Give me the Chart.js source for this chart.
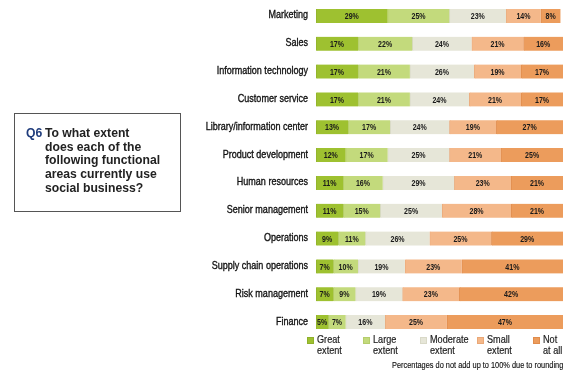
<!DOCTYPE html>
<html><head><meta charset="utf-8">
<script src="https://cdn.jsdelivr.net/npm/chart.js@4"></script>
<style>
html,body{margin:0;padding:0;background:#fff;}
#wrap{position:relative;width:575px;height:383px;overflow:hidden;}
#c{position:absolute;left:0;top:0;}
#box{position:absolute;left:14px;top:113px;width:167px;height:99px;border:1px solid #555;box-sizing:border-box;
 font-family:"Liberation Sans",Arial,sans-serif;font-weight:bold;font-size:12.2px;line-height:13.7px;color:#222;}
#q{position:absolute;left:11px;top:13px;color:#1f3c7c;}
#qt{position:absolute;left:30px;top:13px;white-space:nowrap;}
.leg{position:absolute;top:334px;font-family:"Liberation Sans",Arial,sans-serif;font-size:11px;line-height:11px;color:#222;}
.sw{position:absolute;left:0;top:3px;width:7px;height:7px;}
.lt{position:absolute;left:10px;top:0;white-space:nowrap;transform:scaleX(0.83);transform-origin:0 0;-webkit-text-stroke:0.2px #222;}
#note{position:absolute;right:12px;top:360px;font-family:"Liberation Sans",Arial,sans-serif;font-size:9.5px;line-height:10px;color:#111;white-space:nowrap;transform-origin:100% 0;-webkit-text-stroke:0.15px #111;}
</style></head>
<body><div id="wrap">
<canvas id="c" width="575" height="383"></canvas>
<div id="box"><div id="q">Q6</div><div id="qt">To what extent<br>does each of the<br>following functional<br>areas currently use<br>social business?</div></div>
<div id="legend"></div>
<div id="note">Percentages do not add up to 100% due to rounding</div>
</div>
<script>
const categories = ["Marketing","Sales","Information technology","Customer service","Library/information center","Product development","Human resources","Senior management","Operations","Supply chain operations","Risk management","Finance"];
const seriesNames = ["Great extent","Large extent","Moderate extent","Small extent","Not at all"];
const legendLines = [["Great","extent"],["Large","extent"],["Moderate","extent"],["Small","extent"],["Not","at all"]];
const great    = [29,17,17,17,13,12,11,11, 9, 7, 7, 5];
const large    = [25,22,21,21,17,17,16,15,11,10, 9, 7];
const moderate = [23,24,26,24,24,25,29,25,26,19,19,16];
const small    = [14,21,19,21,19,21,23,28,25,23,23,25];
const notAtAll = [ 8,16,17,17,27,25,21,21,29,41,42,47];
const colors = ["#9ec130","#c3da7c","#e6e6d8","#f4b88a","#ec9c5c"];
const edge   = ["#8fb02a","#b5cd6c","#d9d9c8","#eaa877","#e08c4c"];

const allSeries = [great,large,moderate,small,notAtAll];
const FAM = '"Liberation Sans", Arial, sans-serif';

const labelPlugin = {
  id:'segLabels',
  afterDatasetsDraw(chart){
    const ctx = chart.ctx;
    ctx.save();
    ctx.font = 'bold 9.5px ' + FAM;
    ctx.fillStyle = '#1a1a1a';
    ctx.textAlign = 'center';
    ctx.textBaseline = 'middle';
    chart.data.datasets.forEach((ds,i)=>{
      chart.getDatasetMeta(i).data.forEach((bar,j)=>{
        const x = (bar.x + bar.base)/2;
        ctx.save();
        ctx.translate(x, bar.y+0.5);
        ctx.scale(0.74,1);
        ctx.fillText(ds.data[j]+'%', 0, 0);
        ctx.restore();
      });
    });
    // category labels, positioned with the y scale
    const ys = chart.scales.y;
    ctx.font = '11px ' + FAM;
    ctx.textAlign = 'right';
    ctx.fillStyle = '#111';
    ctx.strokeStyle = '#111';
    ctx.lineWidth = 0.35;
    ys.ticks.forEach((t,i)=>{
      const y = ys.getPixelForTick(i) - 0.5;
      ctx.save();
      ctx.translate(ys.right - 8, y);
      ctx.scale(0.82,1);
      const s = ys.getLabelForValue(t.value);
      ctx.fillText(s, 0, 0);
      ctx.strokeText(s, 0, 0);
      ctx.restore();
    });
    ctx.restore();
  }
};

new Chart(document.getElementById('c'),{
  type:'bar',
  data:{labels:categories,datasets:allSeries.map((d,i)=>({
    label:seriesNames[i],data:d,backgroundColor:colors[i],borderColor:edge[i],
    borderWidth:{left:1,right:0,top:0,bottom:0},borderSkipped:false,barThickness:14
  }))},
  options:{
    indexAxis:'y',responsive:false,animation:false,
    layout:{padding:{top:2,bottom:47,right:12,left:0}},
    plugins:{legend:{display:false},tooltip:{enabled:false}},
    scales:{
      x:{stacked:true,min:0,max:100,display:false},
      y:{stacked:true,grid:{display:false},border:{display:false},
        ticks:{display:false},
        afterFit(s){s.width=316;}
      }
    }
  },
  plugins:[labelPlugin]
});

const lx=[307,363,420,477,533];
const lg=document.getElementById('legend');
legendLines.forEach((l,i)=>{
  const d=document.createElement('div');d.className='leg';d.style.left=lx[i]+'px';
  d.innerHTML='<div class="sw" style="background:'+colors[i]+';border:1px solid '+edge[i]+';box-sizing:border-box"></div><div class="lt">'+l[0]+'<br>'+l[1]+'</div>';
  lg.appendChild(d);
});
const note=document.getElementById('note');
note.style.transform='scaleX('+(171/note.offsetWidth)+')';
</script>
</body></html>
